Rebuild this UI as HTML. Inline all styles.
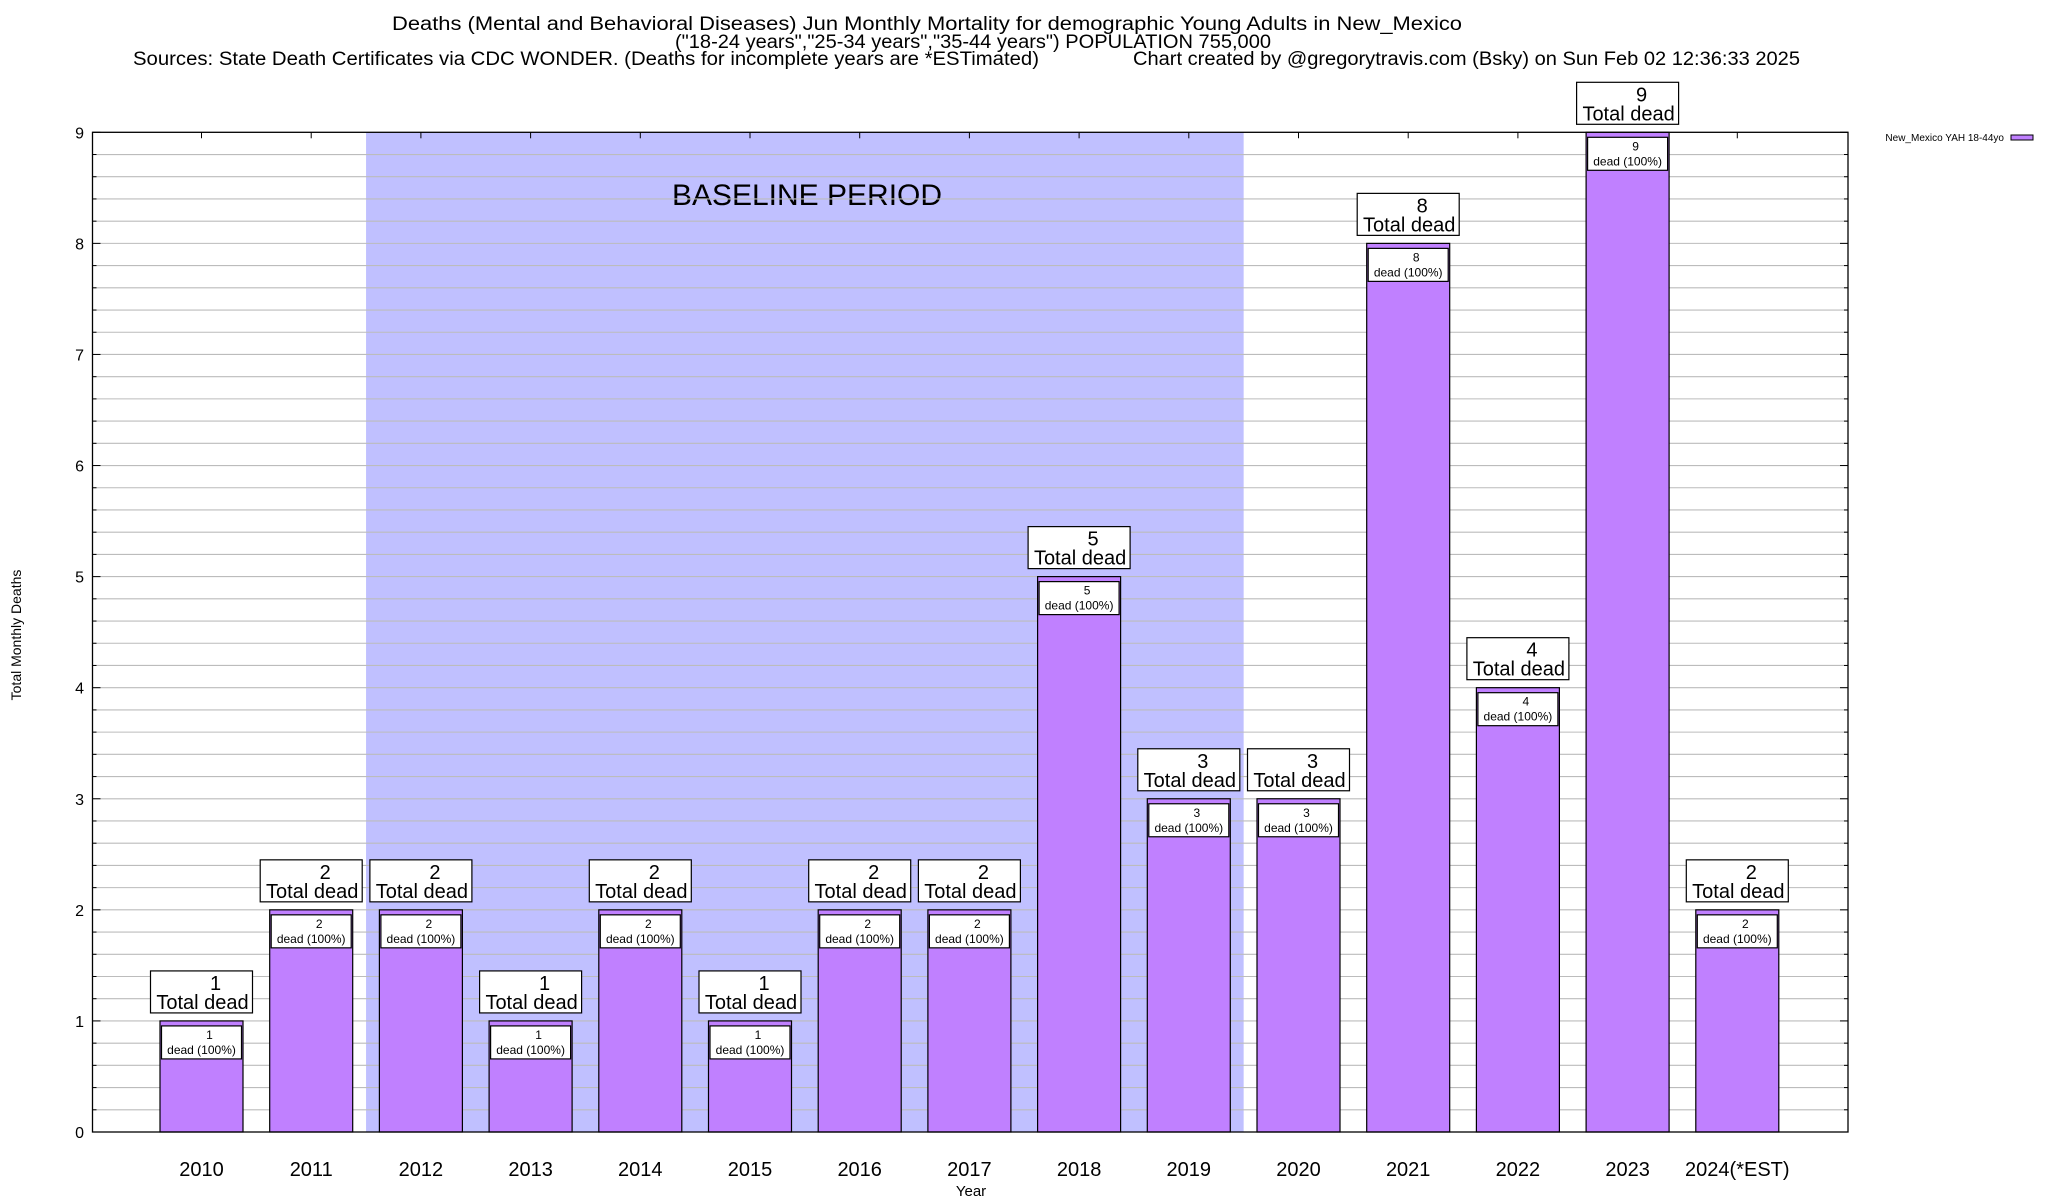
<!DOCTYPE html>
<html><head><meta charset="utf-8"><style>
html,body{margin:0;padding:0;background:#fff;}
svg{display:block;font-family:"Liberation Sans",Arial,sans-serif;}
</style></head><body>
<svg id="chart" width="2048" height="1200" viewBox="0 0 2048 1200" xmlns="http://www.w3.org/2000/svg">
<rect width="2048" height="1200" fill="#fff"/>
<text x="392" y="30" font-size="19" textLength="1070" lengthAdjust="spacingAndGlyphs">Deaths (Mental and Behavioral Diseases) Jun Monthly Mortality for demographic Young Adults in New_Mexico</text>
<text x="675" y="48" font-size="19" textLength="596" lengthAdjust="spacingAndGlyphs">("18-24 years","25-34 years","35-44 years") POPULATION 755,000</text>
<text x="133" y="65" font-size="19" textLength="906" lengthAdjust="spacingAndGlyphs">Sources: State Death Certificates via CDC WONDER. (Deaths for incomplete years are *ESTimated)</text>
<text x="1133" y="65" font-size="19" textLength="667" lengthAdjust="spacingAndGlyphs">Chart created by @gregorytravis.com (Bsky) on Sun Feb 02 12:36:33 2025</text>
<g id="plot"></g>
<text transform="translate(21,635) rotate(-90)" text-anchor="middle" font-size="14">Total Monthly Deaths</text>
<text x="971" y="1196" text-anchor="middle" font-size="15">Year</text>
<g>
<text x="2004" y="141" text-anchor="end" font-size="10">New_Mexico YAH 18-44yo</text>
<rect x="2011" y="135" width="22" height="5" fill="#c080ff" stroke="#000" stroke-width="1"/>
</g>
</svg>
<script>
const years = ["2010","2011","2012","2013","2014","2015","2016","2017","2018","2019","2020","2021","2022","2023","2024(*EST)"];
const deaths = [1,2,2,1,2,1,2,2,5,3,3,8,4,9,2];
const yTicks = [0,1,2,3,4,5,6,7,8,9];
const baselineRange = [1.5, 9.5];

const NS="http://www.w3.org/2000/svg";
const L=92.5,R=1848,T=132.3,B=1132,X0=201.5,PITCH=109.7,BW=83;
const yMax=9;
function ys(v){return B-(v/yMax)*(B-T);}
function xs(i){return X0+i*PITCH;}
const g=document.getElementById('plot');
function mk(tag,attrs,parent){const e=document.createElementNS(NS,tag);for(const k in attrs)e.setAttribute(k,attrs[k]);(parent||g).appendChild(e);return e;}

const sh=mk('rect',{x:xs(baselineRange[0]),y:T,width:xs(baselineRange[1])-xs(baselineRange[0]),height:B-T,fill:'#c0c0ff'});


const bt=mk('text',{x:807,y:205,'font-size':30,'text-anchor':'middle'});
bt.textContent='BASELINE PERIOD';



for(let v=0;v<=yMax*5;v++){
  const y=ys(v/5);
  if(v>0&&v<yMax*5){const gl=mk('line',{x1:L,x2:R,y1:y,y2:y,stroke:'#bcbcbc','stroke-width':1.1});
  
  }
  const big=v%5===0;
  mk('line',{x1:L,x2:L+(big?8:4),y1:y,y2:y,stroke:'#000','stroke-width':1});
  mk('line',{x1:R,x2:R-(big?8:4),y1:y,y2:y,stroke:'#000','stroke-width':1});
}
yTicks.forEach(t=>{
  const tx=mk('text',{x:84,y:ys(t)+6,'font-size':16,'text-anchor':'end'});
  tx.textContent=t;
  
  
});

years.forEach((yr,i)=>{
  const v=deaths[i],cx=xs(i),top=ys(v);
  mk('line',{x1:cx,x2:cx,y1:T,y2:T+6,stroke:'#000','stroke-width':1});
  const bar=mk('rect',{x:cx-BW/2,y:top,width:BW,height:B-top,fill:'#c080ff',stroke:'#000','stroke-width':1.2});
  
  
  const ib=mk('rect',{x:cx-BW/2+1.5,y:top+5,width:BW-3,height:33,fill:'#fff',stroke:'#000','stroke-width':1.2});
  
  
  const t1=mk('text',{x:cx+8,y:top+18,'font-size':12,'text-anchor':'middle'});t1.textContent=v;
  
  
  const t2=mk('text',{x:cx,y:top+33,'font-size':12,'text-anchor':'middle'});t2.textContent='dead (100%)';
  
  
  const ob=mk('rect',{x:cx-51,y:top-50,width:102,height:42,fill:'#fff',stroke:'#000','stroke-width':1.2});
  
  
  const t3=mk('text',{x:cx+14,y:top-31,'font-size':20,'text-anchor':'middle'});t3.textContent=v;
  
  
  const t4=mk('text',{x:cx+1,y:top-12,'font-size':20,'text-anchor':'middle'});t4.textContent='Total dead';
  
  
  const xl=mk('text',{x:cx,y:1176,'font-size':20,'text-anchor':'middle'});xl.textContent=yr;
  
  
});
const fr=mk('rect',{x:L,y:T,width:R-L,height:B-T,fill:'none',stroke:'#000','stroke-width':1.3});


</script>
</body></html>
